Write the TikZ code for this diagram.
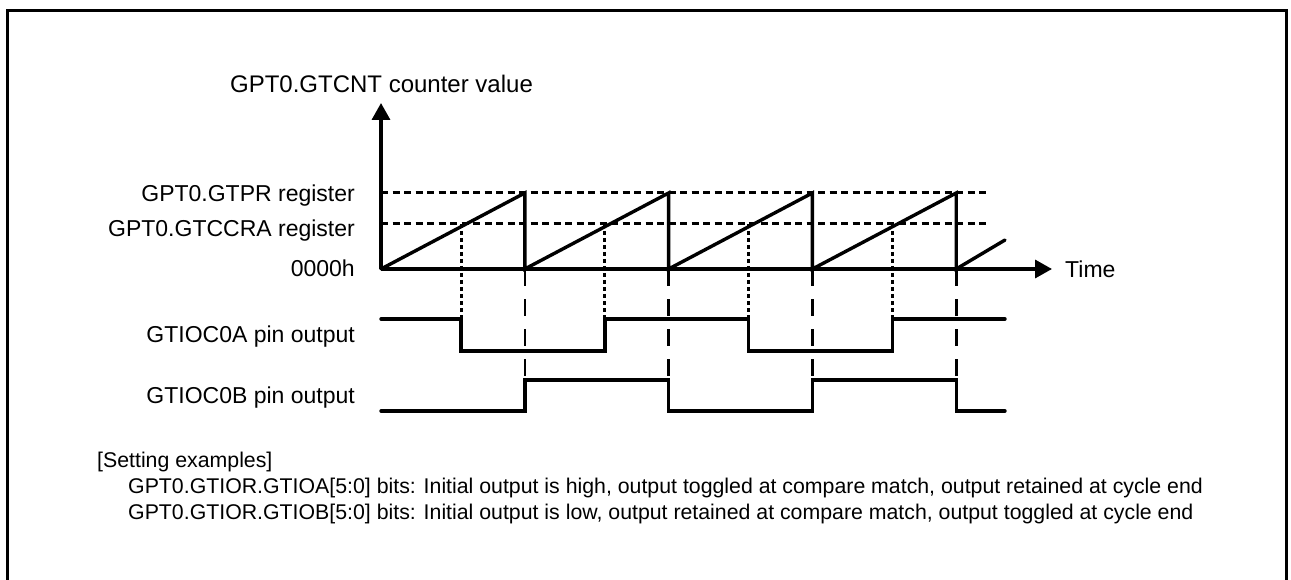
\documentclass[tikz,border=0pt]{standalone}
\usepackage{fontspec}
\setmainfont{Liberation Sans}
\usetikzlibrary{arrows.meta}
\begin{document}
\begin{tikzpicture}[x=1pt,y=-1pt,
  lbl/.style={anchor=base east, inner sep=0pt, font=\fontsize{23}{27}\selectfont},
  note/.style={anchor=base west, inner sep=0pt, font=\fontsize{21.3}{26}\selectfont},
  solidline/.style={line width=3.4pt, line cap=round, line join=miter},
  axisline/.style={line width=3.4pt, -{Triangle[length=17pt,width=18pt]}},
  levelline/.style={line width=3pt, dash pattern=on 7pt off 4.5pt},
  cmpline/.style={line width=3pt, dash pattern=on 4pt off 3pt},
  endline/.style={line width=2.6pt, dash pattern=on 17pt off 13pt},
  frameline/.style={line width=3pt}
]
\useasboundingbox (0,0) rectangle (1291,580);
\draw[frameline] (7.5,10.8) rectangle (1286.7,583);

% named coordinates
\coordinate (O) at (381,269);
\coordinate (ytip) at (381,103);
\coordinate (xtip) at (1052,269);

% level lines
\draw[levelline] (381,193) coordinate (prl) -- (990,193) coordinate (prr);
\draw[levelline] (381,224) coordinate (cral) -- (990,224) coordinate (crar);

% compare match verticals
\foreach \cx in {461,604.8,748.6,892.4}{
  \draw[cmpline] (\cx,224) -- (\cx,319);
}
% cycle end verticals
\foreach \ex in {524.8,668.6,812.4,956.2}{
  \draw[endline] (\ex,269) -- (\ex,411);
}

% axes
\draw[axisline] (O) -- (ytip);
\draw[axisline] (O) -- (xtip);

% sawtooth
\draw[solidline] (O) -- (524.8,193) -- (524.8,269) -- (668.6,193) -- (668.6,269)
  -- (812.4,193) -- (812.4,269) -- (956.2,193) -- (956.2,269) -- (1005,240);

% GTIOC0A
\draw[solidline] (381,319) -- (461,319) -- (461,351) -- (604.8,351) -- (604.8,319)
  -- (748.6,319) -- (748.6,351) -- (892.4,351) -- (892.4,319) -- (1005,319);

% GTIOC0B
\draw[solidline] (381,411) -- (524.8,411) -- (524.8,380) -- (668.6,380) -- (668.6,411)
  -- (812.4,411) -- (812.4,380) -- (956.2,380) -- (956.2,411) -- (1005,411);

% labels
\node[lbl, anchor=base, font=\fontsize{24}{28}\selectfont] (title) at (381.5,93) {GPT0.GTCNT counter value};
\node[lbl] (gtpr) at (355,201.5) {GPT0.GTPR register};
\node[lbl] (gtccra) at (355,236.5) {GPT0.GTCCRA register};
\node[lbl] (zero) at (355,276.5) {0000h};
\node[lbl] (pina) at (355,342) {GTIOC0A pin output};
\node[lbl] (pinb) at (355,403) {GTIOC0B pin output};
\node[lbl, anchor=base west] (time) at (1065,277) {Time};

\node[note] (set0) at (97,467) {[Setting examples]};
\node[note] (set1) at (128,493) {GPT0.GTIOR.GTIOA[5:0] bits: Initial output is high, output toggled at compare match, output retained at cycle end};
\node[note] (set2) at (128,519) {GPT0.GTIOR.GTIOB[5:0] bits: Initial output is low, output retained at compare match, output toggled at cycle end};
\end{tikzpicture}
\end{document}
